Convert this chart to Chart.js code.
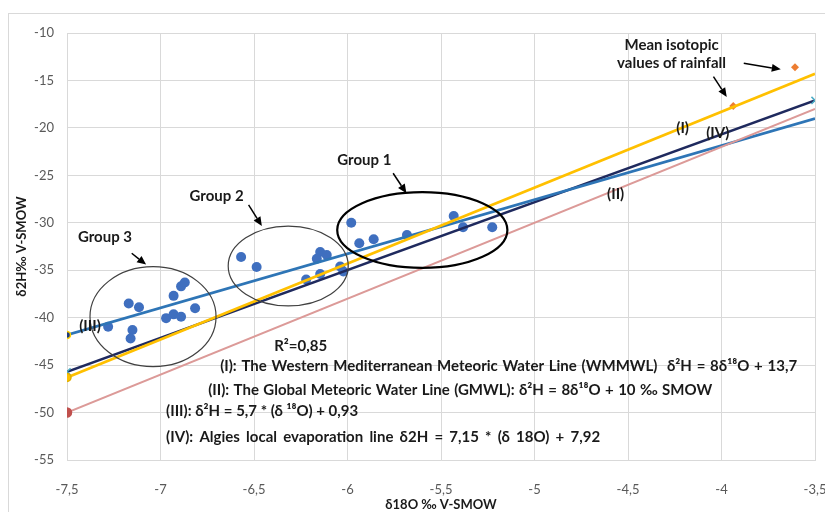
<!DOCTYPE html>
<html>
<head>
<meta charset="utf-8">
<script src="https://cdn.jsdelivr.net/npm/chart.js@4"></script>
<style>
  html, body { margin: 0; padding: 0; background: #ffffff; }
  #wrap { position: relative; width: 825px; height: 512px; }
</style>
</head>
<body>
<div id="wrap"><canvas id="c" width="825" height="512"></canvas></div>
<script>
// Groundwater samples (δ18O, δ2H), three groups
const group1X = [-5.98, -5.937, -5.86, -5.682, -5.432, -5.382, -5.226];
const group1Y = [-29.99, -32.16, -31.74, -31.29, -29.28, -30.47, -30.47];
const group2X = [-6.569, -6.486, -6.146, -6.164, -6.111, -6.221, -6.146, -6.039, -6.022];
const group2Y = [-33.6, -34.66, -33.08, -33.8, -33.4, -35.97, -35.4, -34.6, -35.13];
const group3X = [-7.28, -7.17, -7.115, -7.15, -7.16, -6.93, -6.89, -6.87, -6.97, -6.93, -6.89, -6.815];
const group3Y = [-40.95, -38.5, -38.9, -41.3, -42.2, -37.7, -36.7, -36.3, -40.05, -39.65, -39.9, -39.0];

// Mean isotopic values of rainfall
const rainX = [-3.937, -3.607];
const rainY = [-17.7, -13.6];

// Reference lines δ2H = a·δ18O + b : (I) WMMWL, (II) GMWL, (III) regression, (IV) local evaporation line
const lineNames = ['(I)', '(II)', '(III)', '(IV)'];
const lineSlopes = [8, 8, 5.7, 7.15];
const lineIntercepts = [13.7, 10, 0.93, 7.92];
const lineRangeX = [-7.5, -3.5];

// Axis ticks
const xTickValues = [-7.5, -7, -6.5, -6, -5.5, -5, -4.5, -4, -3.5];
const yTickValues = [-55, -50, -45, -40, -35, -30, -25, -20, -15, -10];

const fmt = v => String(v).replace('.', ',');
const pts = (xs, ys) => xs.map((x, i) => ({ x: x, y: ys[i] }));
const linePts = i => lineRangeX.map(x => ({ x: x, y: lineSlopes[i] * x + lineIntercepts[i] }));

const LABEL_FONT = 'bold 15px Lato';
const INK = '#1a1a1a';

// Decorations, placed in data units
const ellipses = [
  { cx: -5.60, cy: -30.76, rx: 0.455, ry: 4.0, w: 2.2, color: '#000000' },
  { cx: -6.317, cy: -34.55, rx: 0.321, ry: 4.2, w: 1.2, color: '#404040' },
  { cx: -7.04, cy: -39.9, rx: 0.337, ry: 5.27, w: 1.2, color: '#404040' }
];
const arrows = [
  [-7.154, -33.21, -7.077, -34.41],
  [-6.529, -28.12, -6.458, -30.34],
  [-5.756, -24.78, -5.685, -26.89],
  [-3.881, -13.19, -3.683, -13.83],
  [-4.043, -14.60, -3.972, -16.74]
];
const centeredTexts = [
  ['Group 3', -7.297, -31.5],
  ['Group 2', -6.70, -27.2],
  ['Group 1', -5.91, -23.4],
  ['Mean isotopic', -4.267, -11.26],
  ['values of rainfall', -4.267, -13.16],
  ['(I)', -4.208, -20.01],
  ['(IV)', -4.02, -20.54],
  ['(II)', -4.566, -26.97],
  ['(III)', -7.377, -40.87]
];
// [text, left x, middle y, spread width in px]
const leftTexts = [
  ['R²=0,85', -6.392, -43.0, 0],
  ['(I): The Western Mediterranean Meteoric Water Line (WMMWL)  δ²H = 8δ¹⁸O + 13,7', -6.681, -45.1, 577],
  ['(II): The Global Meteoric Water Line (GMWL): δ²H = 8δ¹⁸O + 10 ‰ SMOW', -6.745, -47.6, 504],
  ['(III): δ²H = 5,7 * (δ ¹⁸O) + 0,93', -6.97, -49.9, 0],
  ['(IV): Algies local evaporation line δ2H = 7,15 * (δ 18O) + 7,92', -6.97, -52.55, 434]
];

function spreadText(ctx, text, x, y, width) {
  const natural = ctx.measureText(text).width;
  if (!width || natural >= width) { ctx.fillText(text, x, y); return; }
  const words = text.split(' ');
  const space = ctx.measureText(' ').width;
  const wordsW = words.reduce((s, w) => s + ctx.measureText(w).width, 0);
  const gap = (width - wordsW) / (words.length - 1);
  let cx = x;
  words.forEach(w => {
    ctx.fillText(w, cx, y);
    cx += ctx.measureText(w).width + Math.max(gap, space);
  });
}

const frame = {
  id: 'frame',
  beforeDraw(chart) {
    const ctx = chart.ctx;
    ctx.save();
    ctx.strokeStyle = '#d9d9d9';
    ctx.lineWidth = 1;
    ctx.strokeRect(8.5, 13.5, 840, 520);
    ctx.restore();
  }
};

const notes = {
  id: 'notes',
  afterDatasetsDraw(chart) {
    const ctx = chart.ctx;
    const sx = chart.scales.x, sy = chart.scales.y;
    const px = v => sx.getPixelForValue(v);
    const py = v => sy.getPixelForValue(v);
    ctx.save();
    ellipses.forEach(e => {
      const rx = Math.abs(px(e.cx + e.rx) - px(e.cx));
      const ry = Math.abs(py(e.cy + e.ry) - py(e.cy));
      ctx.beginPath();
      ctx.ellipse(px(e.cx), py(e.cy), rx, ry, 0, 0, Math.PI * 2);
      ctx.strokeStyle = e.color;
      ctx.lineWidth = e.w;
      ctx.stroke();
    });
    arrows.forEach(a => {
      const x1 = px(a[0]), y1 = py(a[1]), x2 = px(a[2]), y2 = py(a[3]);
      const ang = Math.atan2(y2 - y1, x2 - x1);
      const hl = 9, hw = 4;
      const bx = x2 - hl * Math.cos(ang), by = y2 - hl * Math.sin(ang);
      ctx.strokeStyle = '#000';
      ctx.fillStyle = '#000';
      ctx.lineWidth = 1.5;
      ctx.beginPath();
      ctx.moveTo(x1, y1);
      ctx.lineTo(bx, by);
      ctx.stroke();
      ctx.beginPath();
      ctx.moveTo(x2, y2);
      ctx.lineTo(bx + hw * Math.sin(ang), by - hw * Math.cos(ang));
      ctx.lineTo(bx - hw * Math.sin(ang), by + hw * Math.cos(ang));
      ctx.closePath();
      ctx.fill();
    });
    ctx.font = LABEL_FONT;
    ctx.fillStyle = INK;
    ctx.textBaseline = 'middle';
    ctx.textAlign = 'center';
    centeredTexts.forEach(t => ctx.fillText(t[0], px(t[1]), py(t[2])));
    ctx.textAlign = 'left';
    leftTexts.forEach(t => spreadText(ctx, t[0], px(t[1]), py(t[2]), t[3]));
    ctx.restore();
  }
};

const lineColors = ['#ffc000', '#dc9a98', '#2e75b6', '#1f2a5e'];
const lineWidths = [2.6, 2, 2.6, 2.6];
const endStyles = [
  { style: 'circle', r: [4, 0], bg: '#ffc000', border: '#e0b000' },
  { style: 'circle', r: [4.5, 0], bg: '#c0504d', border: '#c0504d' },
  { style: 'circle', r: [3.5, 0], bg: '#1f3a7a', border: '#ffd000' },
  { style: 'crossRot', r: [5, 5], bg: '#4bacc6', border: '#4bacc6' }
];

const lineSets = lineNames.map((name, i) => ({
  label: name,
  data: linePts(i),
  showLine: true,
  borderColor: lineColors[i],
  borderWidth: lineWidths[i],
  pointStyle: endStyles[i].style,
  pointRadius: endStyles[i].r,
  pointBackgroundColor: endStyles[i].bg,
  pointBorderColor: endStyles[i].border,
  pointBorderWidth: 1.5,
  order: i
}));

const sampleStyle = {
  pointRadius: 5,
  pointBackgroundColor: '#3f6fbf',
  pointBorderColor: '#3f6fbf',
  pointBorderWidth: 0,
  showLine: false,
  order: 10
};

new Chart(document.getElementById('c'), {
  type: 'scatter',
  data: {
    datasets: [
      ...lineSets,
      Object.assign({ label: 'Group 1', data: pts(group1X, group1Y) }, sampleStyle),
      Object.assign({ label: 'Group 2', data: pts(group2X, group2Y) }, sampleStyle),
      Object.assign({ label: 'Group 3', data: pts(group3X, group3Y) }, sampleStyle),
      {
        label: 'Rainfall',
        data: pts(rainX, rainY),
        pointStyle: 'rectRot',
        pointRadius: 4,
        pointBackgroundColor: '#ed7d31',
        pointBorderColor: '#ed7d31',
        pointBorderWidth: 0,
        order: 5
      }
    ]
  },
  options: {
    responsive: false,
    animation: false,
    layout: { padding: { top: 33, right: 10, left: 0, bottom: 0 } },
    plugins: { legend: { display: false }, tooltip: { enabled: false } },
    scales: {
      x: {
        type: 'linear',
        min: -7.5, max: -3.5,
        afterBuildTicks: s => { s.ticks = xTickValues.map(v => ({ value: v })); },
        afterFit: s => { s.height = 52; s.paddingLeft = 0; s.paddingRight = 0; },
        grid: { color: '#d9d9d9', lineWidth: 1, drawTicks: false },
        border: { color: '#d9d9d9' },
        ticks: { padding: 22, color: '#595959', font: { family: 'Lato', size: 13 }, callback: v => fmt(v), maxRotation: 0 },
        title: { display: true, text: 'δ18O ‰ V-SMOW', color: '#1a1a1a', font: { family: 'Lato', size: 13, weight: 'bold' }, padding: { top: 0, bottom: -1 } }
      },
      y: {
        type: 'linear',
        min: -55, max: -10,
        afterBuildTicks: s => { s.ticks = yTickValues.map(v => ({ value: v })); },
        afterFit: s => { s.width = 67; s.paddingTop = 0; s.paddingBottom = 0; },
        grid: { color: '#d9d9d9', lineWidth: 1, drawTicks: false },
        border: { color: '#d9d9d9' },
        ticks: { padding: 13, color: '#595959', font: { family: 'Lato', size: 13 }, callback: v => fmt(v) },
        title: { display: true, text: 'δ2H‰ V-SMOW', color: '#1a1a1a', font: { family: 'Lato', size: 13, weight: 'bold' }, padding: { top: 14, bottom: 0 } }
      }
    }
  },
  plugins: [frame, notes]
});
</script>
</body>
</html>
